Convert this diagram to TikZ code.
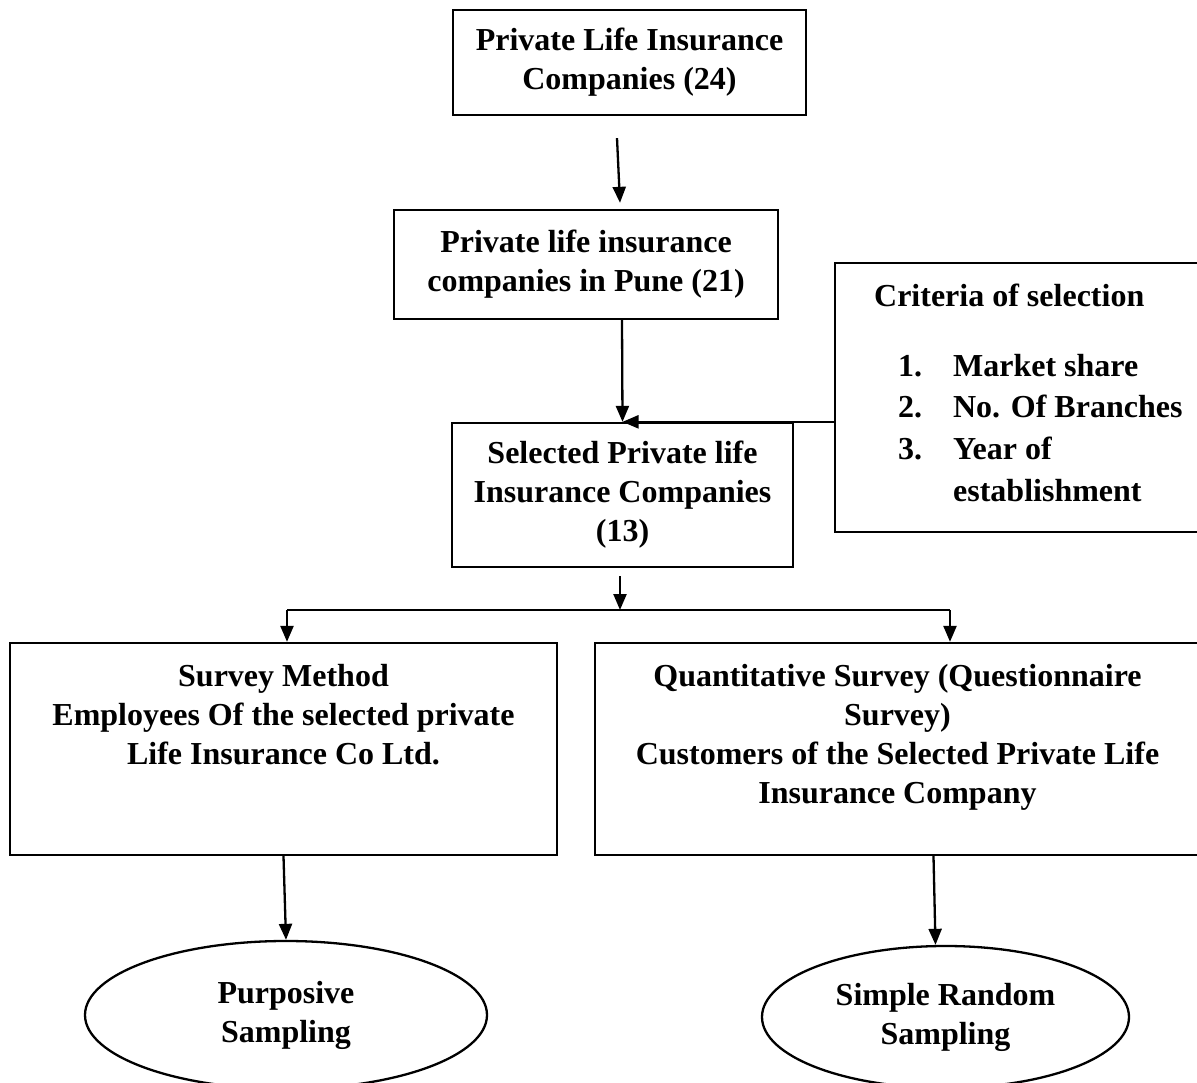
\documentclass[tikz,border=0pt]{standalone}
\usepackage{fontspec}
\setmainfont{Liberation Serif}
\usetikzlibrary{arrows.meta, positioning, calc, shapes.geometric}
\newcommand{\chartfont}{\bfseries\fontsize{32}{39}\selectfont}

\begin{document}
\begin{tikzpicture}[x=1pt, y=-1pt, line width=2.3pt,
      >={Triangle[length=16pt, width=13pt]},
      box/.style={draw, rectangle, inner sep=0pt, align=center, font=\chartfont},
      oval/.style={draw, ellipse, inner sep=0pt, align=center, font=\chartfont},
      boxtext/.style={inner sep=0pt, align=center, font=\chartfont},
      arr/.style={->}
  ]

  \useasboundingbox (0,0) rectangle (1197,1083);

  % Boxes of the selection steps
  \node[box, minimum width=353pt, minimum height=105pt] (top) at (629.5,62.5)
    {Private Life Insurance\\Companies (24)};
  \node[box, minimum width=384pt, minimum height=109pt] (pune) at (586,264.5)
    {Private life insurance\\companies in Pune (21)};
  \node[box, minimum width=341pt, minimum height=144pt] (selected) at (622.5,495)
    {Selected Private life\\Insurance Companies\\(13)};

  % Criteria box (runs past the right edge)
  \node[box, minimum width=370pt, minimum height=269pt] (criteria) at (1020,397.5) {};
  \node[boxtext, anchor=base west] (crithead) at (873,307) {Criteria of selection};
  \node[boxtext, anchor=base west] (critlist) at (897,376)
    {\fontsize{32}{42}\selectfont
     \begin{tabular}[t]{@{}l@{\hspace{31pt}}l@{}}
       1. & Market share\\
       2. & No. Of Branches\\
       3. & Year of\\
          & establishment
     \end{tabular}};

  % Survey boxes
  \node[box, minimum width=547pt, minimum height=212pt] (survey) at (283.5,749) {};
  \node[boxtext, below=21pt of survey.north] (surveytext)
    {Survey Method\\Employees Of the selected private\\Life Insurance Co Ltd.};
  \node[box, minimum width=605pt, minimum height=212pt] (quant) at (897.5,749) {};
  \node[boxtext, below=21pt of quant.north] (quanttext)
    {Quantitative Survey (Questionnaire\\Survey)\\Customers of the Selected Private Life\\Insurance Company};

  % Sampling ovals
  \node[oval, minimum width=402pt, minimum height=148pt] (purposive) at (286,1015)
    {Purposive\\Sampling};
  \node[oval, minimum width=367pt, minimum height=142pt] (random) at (945.5,1017)
    {Simple Random\\Sampling};

  % Split point under the selected companies
  \coordinate (lsplit) at (287,610);
  \coordinate (rsplit) at (950,610);
  \coordinate (split) at (620,610);

  % Connectors
  \draw[arr] ([xshift=-12.5pt, yshift=-22pt]top.south) -- ([xshift=34pt, yshift=6pt]pune.north);
  \draw[arr] ([xshift=36pt]pune.south) -- (selected.north);
  \draw[arr] (criteria.west |- selected.north) -- (selected.north);
  \draw[arr] ([xshift=-2.5pt, yshift=-8pt]selected.south) -- (split);
  \draw (lsplit) -- (rsplit);
  \draw[arr] (lsplit) -- (lsplit |- survey.north);
  \draw[arr] (rsplit) -- (rsplit |- quant.north);
  \draw[arr] (survey.south) -- (purposive.north);
  \draw[arr] ([xshift=36pt]quant.south) -- ([xshift=-10pt]random.north);

\end{tikzpicture}
\end{document}
